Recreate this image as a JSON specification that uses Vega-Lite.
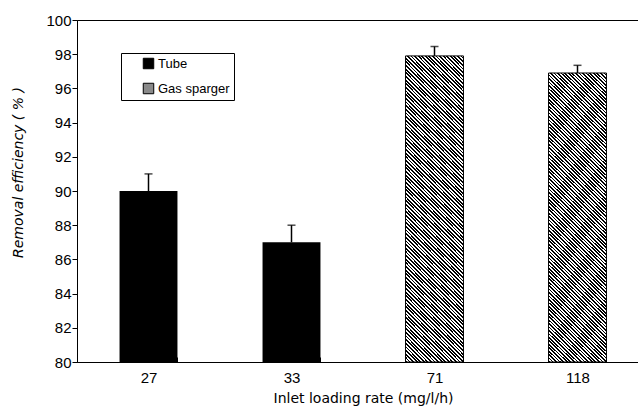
{
"$schema":"https://vega.github.io/schema/vega-lite/v6.json",
"width":572,"height":342,
"autosize":"none",
"padding":{"left":77,"top":20,"right":0,"bottom":47},
"background":"white",
"config":{"view":{"stroke":"black","strokeWidth":1},"font":"Liberation Sans","axisY":{"labelOverlap":false}},
"data":{"values":[
{"rate":"27","type":"Tube","eff":90.0,"hi":91.0},
{"rate":"33","type":"Tube","eff":87.0,"hi":88.0},
{"rate":"71","type":"Gas sparger","eff":97.9,"hi":98.45},
{"rate":"118","type":"Gas sparger","eff":96.9,"hi":97.35}
]},
"encoding":{
"x":{"field":"rate","type":"ordinal","sort":["27","33","71","118"],"scale":{"paddingInner":0.595,"paddingOuter":0.2975},
"axis":{"title":"Inlet loading rate (mg/l/h)","labelAngle":0,"labelFont":"Liberation Sans","labelFontSize":15,"labelColor":"black","tickBand":"extent","tickSize":-5,"tickColor":"black","domainColor":"black","labelPadding":13,"titleFont":"DejaVu Sans","titleFontSize":14,"titleFontWeight":"normal","titleColor":"black","titleY":40,"titleBaseline":"alphabetic"}}
},
"layer":[
{"transform":[{"filter":"datum.type === 'Tube'"}],
"mark":{"type":"bar","color":"black"},
"encoding":{
"y":{"field":"eff","type":"quantitative","title":"Removal efficiency ( % )","scale":{"domain":[80,100],"zero":false,"nice":false},
"axis":{"values":[80,82,84,86,88,90,92,94,96,98,100],"labelOverlap":false,"grid":false,"tickSize":5,"tickColor":"black","domainColor":"black","labelPadding":1,"labelFontSize":15,"labelColor":"black","titleFont":"DejaVu Sans","titleFontStyle":"italic","titleFontWeight":"normal","titleFontSize":14,"titleColor":"black","titleX":-59,"titleY":152,"titleAngle":-90,"titleAlign":"center","titleBaseline":"middle"}},
"y2":{"datum":80},
"color":{"field":"type","type":"nominal","scale":{"domain":["Tube","Gas sparger"],"range":["#000000","#8a8a8a"]},
"legend":{"orient":"none","legendX":44,"legendY":33,"title":null,"symbolType":"square","symbolSize":110,"symbolStrokeColor":"black","symbolStrokeWidth":1,"symbolOpacity":1,"labelFontSize":13,"labelColor":"black","labelOffset":3,"rowPadding":10,"padding":4,"symbolOffset":17,"strokeColor":"black"}}
}},
{"transform":[{"filter":"datum.type === 'Gas sparger'"}],
"mark":{"type":"bar","stroke":"black","strokeWidth":1,"color":{"gradient":"linear","x1":0,"y1":1,"x2":0.223,"y2":-0.151,"stops":[
{"offset":0,"color":"#000"},{"offset":0.005,"color":"#000"},{"offset":0.005,"color":"#fff"},{"offset":0.01,"color":"#fff"},
{"offset":0.01,"color":"#000"},{"offset":0.015,"color":"#000"},{"offset":0.015,"color":"#fff"},{"offset":0.02,"color":"#fff"},
{"offset":0.02,"color":"#000"},{"offset":0.025,"color":"#000"},{"offset":0.025,"color":"#fff"},{"offset":0.03,"color":"#fff"},
{"offset":0.03,"color":"#000"},{"offset":0.035,"color":"#000"},{"offset":0.035,"color":"#fff"},{"offset":0.04,"color":"#fff"},
{"offset":0.04,"color":"#000"},{"offset":0.045,"color":"#000"},{"offset":0.045,"color":"#fff"},{"offset":0.05,"color":"#fff"},
{"offset":0.05,"color":"#000"},{"offset":0.055,"color":"#000"},{"offset":0.055,"color":"#fff"},{"offset":0.06,"color":"#fff"},
{"offset":0.06,"color":"#000"},{"offset":0.065,"color":"#000"},{"offset":0.065,"color":"#fff"},{"offset":0.07,"color":"#fff"},
{"offset":0.07,"color":"#000"},{"offset":0.075,"color":"#000"},{"offset":0.075,"color":"#fff"},{"offset":0.08,"color":"#fff"},
{"offset":0.08,"color":"#000"},{"offset":0.085,"color":"#000"},{"offset":0.085,"color":"#fff"},{"offset":0.09,"color":"#fff"},
{"offset":0.09,"color":"#000"},{"offset":0.095,"color":"#000"},{"offset":0.095,"color":"#fff"},{"offset":0.1,"color":"#fff"},
{"offset":0.1,"color":"#000"},{"offset":0.105,"color":"#000"},{"offset":0.105,"color":"#fff"},{"offset":0.11,"color":"#fff"},
{"offset":0.11,"color":"#000"},{"offset":0.115,"color":"#000"},{"offset":0.115,"color":"#fff"},{"offset":0.12,"color":"#fff"},
{"offset":0.12,"color":"#000"},{"offset":0.125,"color":"#000"},{"offset":0.125,"color":"#fff"},{"offset":0.13,"color":"#fff"},
{"offset":0.13,"color":"#000"},{"offset":0.135,"color":"#000"},{"offset":0.135,"color":"#fff"},{"offset":0.14,"color":"#fff"},
{"offset":0.14,"color":"#000"},{"offset":0.145,"color":"#000"},{"offset":0.145,"color":"#fff"},{"offset":0.15,"color":"#fff"},
{"offset":0.15,"color":"#000"},{"offset":0.155,"color":"#000"},{"offset":0.155,"color":"#fff"},{"offset":0.16,"color":"#fff"},
{"offset":0.16,"color":"#000"},{"offset":0.165,"color":"#000"},{"offset":0.165,"color":"#fff"},{"offset":0.17,"color":"#fff"},
{"offset":0.17,"color":"#000"},{"offset":0.175,"color":"#000"},{"offset":0.175,"color":"#fff"},{"offset":0.18,"color":"#fff"},
{"offset":0.18,"color":"#000"},{"offset":0.185,"color":"#000"},{"offset":0.185,"color":"#fff"},{"offset":0.19,"color":"#fff"},
{"offset":0.19,"color":"#000"},{"offset":0.195,"color":"#000"},{"offset":0.195,"color":"#fff"},{"offset":0.2,"color":"#fff"},
{"offset":0.2,"color":"#000"},{"offset":0.205,"color":"#000"},{"offset":0.205,"color":"#fff"},{"offset":0.21,"color":"#fff"},
{"offset":0.21,"color":"#000"},{"offset":0.215,"color":"#000"},{"offset":0.215,"color":"#fff"},{"offset":0.22,"color":"#fff"},
{"offset":0.22,"color":"#000"},{"offset":0.225,"color":"#000"},{"offset":0.225,"color":"#fff"},{"offset":0.23,"color":"#fff"},
{"offset":0.23,"color":"#000"},{"offset":0.235,"color":"#000"},{"offset":0.235,"color":"#fff"},{"offset":0.24,"color":"#fff"},
{"offset":0.24,"color":"#000"},{"offset":0.245,"color":"#000"},{"offset":0.245,"color":"#fff"},{"offset":0.25,"color":"#fff"},
{"offset":0.25,"color":"#000"},{"offset":0.255,"color":"#000"},{"offset":0.255,"color":"#fff"},{"offset":0.26,"color":"#fff"},
{"offset":0.26,"color":"#000"},{"offset":0.265,"color":"#000"},{"offset":0.265,"color":"#fff"},{"offset":0.27,"color":"#fff"},
{"offset":0.27,"color":"#000"},{"offset":0.275,"color":"#000"},{"offset":0.275,"color":"#fff"},{"offset":0.28,"color":"#fff"},
{"offset":0.28,"color":"#000"},{"offset":0.285,"color":"#000"},{"offset":0.285,"color":"#fff"},{"offset":0.29,"color":"#fff"},
{"offset":0.29,"color":"#000"},{"offset":0.295,"color":"#000"},{"offset":0.295,"color":"#fff"},{"offset":0.3,"color":"#fff"},
{"offset":0.3,"color":"#000"},{"offset":0.305,"color":"#000"},{"offset":0.305,"color":"#fff"},{"offset":0.31,"color":"#fff"},
{"offset":0.31,"color":"#000"},{"offset":0.315,"color":"#000"},{"offset":0.315,"color":"#fff"},{"offset":0.32,"color":"#fff"},
{"offset":0.32,"color":"#000"},{"offset":0.325,"color":"#000"},{"offset":0.325,"color":"#fff"},{"offset":0.33,"color":"#fff"},
{"offset":0.33,"color":"#000"},{"offset":0.335,"color":"#000"},{"offset":0.335,"color":"#fff"},{"offset":0.34,"color":"#fff"},
{"offset":0.34,"color":"#000"},{"offset":0.345,"color":"#000"},{"offset":0.345,"color":"#fff"},{"offset":0.35,"color":"#fff"},
{"offset":0.35,"color":"#000"},{"offset":0.355,"color":"#000"},{"offset":0.355,"color":"#fff"},{"offset":0.36,"color":"#fff"},
{"offset":0.36,"color":"#000"},{"offset":0.365,"color":"#000"},{"offset":0.365,"color":"#fff"},{"offset":0.37,"color":"#fff"},
{"offset":0.37,"color":"#000"},{"offset":0.375,"color":"#000"},{"offset":0.375,"color":"#fff"},{"offset":0.38,"color":"#fff"},
{"offset":0.38,"color":"#000"},{"offset":0.385,"color":"#000"},{"offset":0.385,"color":"#fff"},{"offset":0.39,"color":"#fff"},
{"offset":0.39,"color":"#000"},{"offset":0.395,"color":"#000"},{"offset":0.395,"color":"#fff"},{"offset":0.4,"color":"#fff"},
{"offset":0.4,"color":"#000"},{"offset":0.405,"color":"#000"},{"offset":0.405,"color":"#fff"},{"offset":0.41,"color":"#fff"},
{"offset":0.41,"color":"#000"},{"offset":0.415,"color":"#000"},{"offset":0.415,"color":"#fff"},{"offset":0.42,"color":"#fff"},
{"offset":0.42,"color":"#000"},{"offset":0.425,"color":"#000"},{"offset":0.425,"color":"#fff"},{"offset":0.43,"color":"#fff"},
{"offset":0.43,"color":"#000"},{"offset":0.435,"color":"#000"},{"offset":0.435,"color":"#fff"},{"offset":0.44,"color":"#fff"},
{"offset":0.44,"color":"#000"},{"offset":0.445,"color":"#000"},{"offset":0.445,"color":"#fff"},{"offset":0.45,"color":"#fff"},
{"offset":0.45,"color":"#000"},{"offset":0.455,"color":"#000"},{"offset":0.455,"color":"#fff"},{"offset":0.46,"color":"#fff"},
{"offset":0.46,"color":"#000"},{"offset":0.465,"color":"#000"},{"offset":0.465,"color":"#fff"},{"offset":0.47,"color":"#fff"},
{"offset":0.47,"color":"#000"},{"offset":0.475,"color":"#000"},{"offset":0.475,"color":"#fff"},{"offset":0.48,"color":"#fff"},
{"offset":0.48,"color":"#000"},{"offset":0.485,"color":"#000"},{"offset":0.485,"color":"#fff"},{"offset":0.49,"color":"#fff"},
{"offset":0.49,"color":"#000"},{"offset":0.495,"color":"#000"},{"offset":0.495,"color":"#fff"},{"offset":0.5,"color":"#fff"},
{"offset":0.5,"color":"#000"},{"offset":0.505,"color":"#000"},{"offset":0.505,"color":"#fff"},{"offset":0.51,"color":"#fff"},
{"offset":0.51,"color":"#000"},{"offset":0.515,"color":"#000"},{"offset":0.515,"color":"#fff"},{"offset":0.52,"color":"#fff"},
{"offset":0.52,"color":"#000"},{"offset":0.525,"color":"#000"},{"offset":0.525,"color":"#fff"},{"offset":0.53,"color":"#fff"},
{"offset":0.53,"color":"#000"},{"offset":0.535,"color":"#000"},{"offset":0.535,"color":"#fff"},{"offset":0.54,"color":"#fff"},
{"offset":0.54,"color":"#000"},{"offset":0.545,"color":"#000"},{"offset":0.545,"color":"#fff"},{"offset":0.55,"color":"#fff"},
{"offset":0.55,"color":"#000"},{"offset":0.555,"color":"#000"},{"offset":0.555,"color":"#fff"},{"offset":0.56,"color":"#fff"},
{"offset":0.56,"color":"#000"},{"offset":0.565,"color":"#000"},{"offset":0.565,"color":"#fff"},{"offset":0.57,"color":"#fff"},
{"offset":0.57,"color":"#000"},{"offset":0.575,"color":"#000"},{"offset":0.575,"color":"#fff"},{"offset":0.58,"color":"#fff"},
{"offset":0.58,"color":"#000"},{"offset":0.585,"color":"#000"},{"offset":0.585,"color":"#fff"},{"offset":0.59,"color":"#fff"},
{"offset":0.59,"color":"#000"},{"offset":0.595,"color":"#000"},{"offset":0.595,"color":"#fff"},{"offset":0.6,"color":"#fff"},
{"offset":0.6,"color":"#000"},{"offset":0.605,"color":"#000"},{"offset":0.605,"color":"#fff"},{"offset":0.61,"color":"#fff"},
{"offset":0.61,"color":"#000"},{"offset":0.615,"color":"#000"},{"offset":0.615,"color":"#fff"},{"offset":0.62,"color":"#fff"},
{"offset":0.62,"color":"#000"},{"offset":0.625,"color":"#000"},{"offset":0.625,"color":"#fff"},{"offset":0.63,"color":"#fff"},
{"offset":0.63,"color":"#000"},{"offset":0.635,"color":"#000"},{"offset":0.635,"color":"#fff"},{"offset":0.64,"color":"#fff"},
{"offset":0.64,"color":"#000"},{"offset":0.645,"color":"#000"},{"offset":0.645,"color":"#fff"},{"offset":0.65,"color":"#fff"},
{"offset":0.65,"color":"#000"},{"offset":0.655,"color":"#000"},{"offset":0.655,"color":"#fff"},{"offset":0.66,"color":"#fff"},
{"offset":0.66,"color":"#000"},{"offset":0.665,"color":"#000"},{"offset":0.665,"color":"#fff"},{"offset":0.67,"color":"#fff"},
{"offset":0.67,"color":"#000"},{"offset":0.675,"color":"#000"},{"offset":0.675,"color":"#fff"},{"offset":0.68,"color":"#fff"},
{"offset":0.68,"color":"#000"},{"offset":0.685,"color":"#000"},{"offset":0.685,"color":"#fff"},{"offset":0.69,"color":"#fff"},
{"offset":0.69,"color":"#000"},{"offset":0.695,"color":"#000"},{"offset":0.695,"color":"#fff"},{"offset":0.7,"color":"#fff"},
{"offset":0.7,"color":"#000"},{"offset":0.705,"color":"#000"},{"offset":0.705,"color":"#fff"},{"offset":0.71,"color":"#fff"},
{"offset":0.71,"color":"#000"},{"offset":0.715,"color":"#000"},{"offset":0.715,"color":"#fff"},{"offset":0.72,"color":"#fff"},
{"offset":0.72,"color":"#000"},{"offset":0.725,"color":"#000"},{"offset":0.725,"color":"#fff"},{"offset":0.73,"color":"#fff"},
{"offset":0.73,"color":"#000"},{"offset":0.735,"color":"#000"},{"offset":0.735,"color":"#fff"},{"offset":0.74,"color":"#fff"},
{"offset":0.74,"color":"#000"},{"offset":0.745,"color":"#000"},{"offset":0.745,"color":"#fff"},{"offset":0.75,"color":"#fff"},
{"offset":0.75,"color":"#000"},{"offset":0.755,"color":"#000"},{"offset":0.755,"color":"#fff"},{"offset":0.76,"color":"#fff"},
{"offset":0.76,"color":"#000"},{"offset":0.765,"color":"#000"},{"offset":0.765,"color":"#fff"},{"offset":0.77,"color":"#fff"},
{"offset":0.77,"color":"#000"},{"offset":0.775,"color":"#000"},{"offset":0.775,"color":"#fff"},{"offset":0.78,"color":"#fff"},
{"offset":0.78,"color":"#000"},{"offset":0.785,"color":"#000"},{"offset":0.785,"color":"#fff"},{"offset":0.79,"color":"#fff"},
{"offset":0.79,"color":"#000"},{"offset":0.795,"color":"#000"},{"offset":0.795,"color":"#fff"},{"offset":0.8,"color":"#fff"},
{"offset":0.8,"color":"#000"},{"offset":0.805,"color":"#000"},{"offset":0.805,"color":"#fff"},{"offset":0.81,"color":"#fff"},
{"offset":0.81,"color":"#000"},{"offset":0.815,"color":"#000"},{"offset":0.815,"color":"#fff"},{"offset":0.82,"color":"#fff"},
{"offset":0.82,"color":"#000"},{"offset":0.825,"color":"#000"},{"offset":0.825,"color":"#fff"},{"offset":0.83,"color":"#fff"},
{"offset":0.83,"color":"#000"},{"offset":0.835,"color":"#000"},{"offset":0.835,"color":"#fff"},{"offset":0.84,"color":"#fff"},
{"offset":0.84,"color":"#000"},{"offset":0.845,"color":"#000"},{"offset":0.845,"color":"#fff"},{"offset":0.85,"color":"#fff"},
{"offset":0.85,"color":"#000"},{"offset":0.855,"color":"#000"},{"offset":0.855,"color":"#fff"},{"offset":0.86,"color":"#fff"},
{"offset":0.86,"color":"#000"},{"offset":0.865,"color":"#000"},{"offset":0.865,"color":"#fff"},{"offset":0.87,"color":"#fff"},
{"offset":0.87,"color":"#000"},{"offset":0.875,"color":"#000"},{"offset":0.875,"color":"#fff"},{"offset":0.88,"color":"#fff"},
{"offset":0.88,"color":"#000"},{"offset":0.885,"color":"#000"},{"offset":0.885,"color":"#fff"},{"offset":0.89,"color":"#fff"},
{"offset":0.89,"color":"#000"},{"offset":0.895,"color":"#000"},{"offset":0.895,"color":"#fff"},{"offset":0.9,"color":"#fff"},
{"offset":0.9,"color":"#000"},{"offset":0.905,"color":"#000"},{"offset":0.905,"color":"#fff"},{"offset":0.91,"color":"#fff"},
{"offset":0.91,"color":"#000"},{"offset":0.915,"color":"#000"},{"offset":0.915,"color":"#fff"},{"offset":0.92,"color":"#fff"},
{"offset":0.92,"color":"#000"},{"offset":0.925,"color":"#000"},{"offset":0.925,"color":"#fff"},{"offset":0.93,"color":"#fff"},
{"offset":0.93,"color":"#000"},{"offset":0.935,"color":"#000"},{"offset":0.935,"color":"#fff"},{"offset":0.94,"color":"#fff"},
{"offset":0.94,"color":"#000"},{"offset":0.945,"color":"#000"},{"offset":0.945,"color":"#fff"},{"offset":0.95,"color":"#fff"},
{"offset":0.95,"color":"#000"},{"offset":0.955,"color":"#000"},{"offset":0.955,"color":"#fff"},{"offset":0.96,"color":"#fff"},
{"offset":0.96,"color":"#000"},{"offset":0.965,"color":"#000"},{"offset":0.965,"color":"#fff"},{"offset":0.97,"color":"#fff"},
{"offset":0.97,"color":"#000"},{"offset":0.975,"color":"#000"},{"offset":0.975,"color":"#fff"},{"offset":0.98,"color":"#fff"},
{"offset":0.98,"color":"#000"},{"offset":0.985,"color":"#000"},{"offset":0.985,"color":"#fff"},{"offset":0.99,"color":"#fff"},
{"offset":0.99,"color":"#000"},{"offset":0.995,"color":"#000"},{"offset":0.995,"color":"#fff"},{"offset":1,"color":"#fff"}
]}},
"encoding":{
"y":{"field":"eff","type":"quantitative","title":"Removal efficiency ( % )",
"axis":{"values":[80,82,84,86,88,90,92,94,96,98,100],"labelOverlap":false,"grid":false,"tickSize":5,"tickColor":"black","domainColor":"black","labelPadding":1,"labelFontSize":15,"labelColor":"black","titleFont":"DejaVu Sans","titleFontStyle":"italic","titleFontWeight":"normal","titleFontSize":14,"titleColor":"black","titleX":-59,"titleY":152,"titleAngle":-90,"titleAlign":"center","titleBaseline":"middle"}},
"y2":{"datum":80}
}},
{"mark":{"type":"rule","color":"black","strokeWidth":1.5},
"encoding":{
"y":{"field":"eff","type":"quantitative","title":"Removal efficiency ( % )",
"axis":{"values":[80,82,84,86,88,90,92,94,96,98,100],"labelOverlap":false,"grid":false,"tickSize":5,"tickColor":"black","domainColor":"black","labelPadding":1,"labelFontSize":15,"labelColor":"black","titleFont":"DejaVu Sans","titleFontStyle":"italic","titleFontWeight":"normal","titleFontSize":14,"titleColor":"black","titleX":-59,"titleY":152,"titleAngle":-90,"titleAlign":"center","titleBaseline":"middle"}},
"y2":{"field":"hi"}
}},
{"mark":{"type":"tick","color":"black","size":8,"thickness":1.5},
"encoding":{
"y":{"field":"hi","type":"quantitative","title":"Removal efficiency ( % )",
"axis":{"values":[80,82,84,86,88,90,92,94,96,98,100],"labelOverlap":false,"grid":false,"tickSize":5,"tickColor":"black","domainColor":"black","labelPadding":1,"labelFontSize":15,"labelColor":"black","titleFont":"DejaVu Sans","titleFontStyle":"italic","titleFontWeight":"normal","titleFontSize":14,"titleColor":"black","titleX":-59,"titleY":152,"titleAngle":-90,"titleAlign":"center","titleBaseline":"middle"}}
}}
]
}
